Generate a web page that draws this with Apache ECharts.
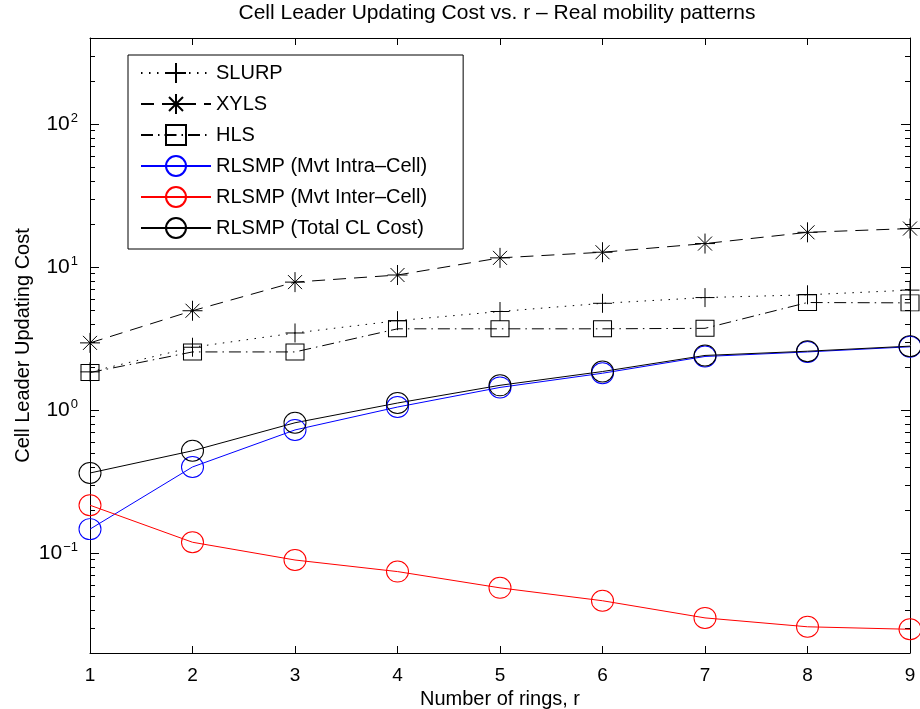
<!DOCTYPE html>
<html>
<head>
<meta charset="utf-8">
<script src="https://cdn.jsdelivr.net/npm/echarts@6/dist/echarts.min.js"></script>
<style>
  html, body { margin: 0; padding: 0; background: #fff; }
  #chart { width: 920px; height: 709px; }
</style>
</head>
<body>
<div id="chart"></div>
<script>
// Number of rings r
const rings = [1, 2, 3, 4, 5, 6, 7, 8, 9];

// Cell leader updating cost per protocol
const slurp      = [1.85, 2.75, 3.46, 4.22, 4.89, 5.58, 6.12, 6.40, 6.90];
const xyls       = [2.95, 4.95, 7.85, 8.80, 11.6, 12.7, 14.6, 17.5, 18.6];
const hls        = [1.83, 2.55, 2.55, 3.70, 3.70, 3.70, 3.73, 5.65, 5.62];
const intraCell  = [0.147, 0.400, 0.726, 1.05, 1.44, 1.81, 2.37, 2.55, 2.77];
const interCell  = [0.216, 0.119, 0.0894, 0.0742, 0.0571, 0.0464, 0.0352, 0.0305, 0.0293];
const totalCost  = [0.363, 0.519, 0.815, 1.12, 1.49, 1.86, 2.41, 2.58, 2.80];

const seriesNames = [
  'SLURP', 'XYLS', 'HLS',
  'RLSMP (Mvt Intra\u2013Cell)', 'RLSMP (Mvt Inter\u2013Cell)', 'RLSMP (Total CL Cost)'
];

// Log axis range and tick positions
const yMin = 0.02, yMax = 400;
const yMajorTicks = [0.1, 1, 10, 100];
const yMinorTicks = [
  0.02, 0.03, 0.04, 0.05, 0.06, 0.07, 0.08, 0.09,
  0.2, 0.3, 0.4, 0.5, 0.6, 0.7, 0.8, 0.9,
  2, 3, 4, 5, 6, 7, 8, 9,
  20, 30, 40, 50, 60, 70, 80, 90,
  200, 300, 400
];

const FONT = '"Liberation Sans", Arial, Helvetica, sans-serif';

const pairs = vals => rings.map((r, i) => [r, vals[i]]);

const plusPath = 'path://M0,10L20,10M10,0L10,20';
const starPath = 'path://M0,10L20,10M10,0L10,20M3,3L17,17M17,3L3,17';

function markerStyle(color) {
  return { color: 'rgba(0,0,0,0)', borderColor: color, borderWidth: 1 };
}

function lineSeries(name, vals, color, dash, symbol, size) {
  return {
    name: name,
    type: 'line',
    xAxisIndex: 0,
    yAxisIndex: 0,
    data: pairs(vals),
    symbol: symbol,
    symbolSize: size,
    showAllSymbol: true,
    lineStyle: { color: color, width: 1, type: dash },
    itemStyle: markerStyle(color),
    emphasis: { disabled: true },
    z: 3
  };
}

function yAxisCfg(position, ticks, len, withLabels) {
  return {
    type: 'log',
    logBase: 10,
    min: yMin,
    max: yMax,
    position: position,
    axisLine: { show: withLabels, lineStyle: { color: '#000', width: 1 } },
    axisTick: { show: true, inside: true, length: len, customValues: ticks,
                lineStyle: { color: '#000', width: 1 } },
    axisLabel: withLabels && position === 'left' ? {
      show: true,
      customValues: yMajorTicks,
      margin: 12,
      formatter: v => {
        const e = Math.round(Math.log10(v));
        return '{b|10}{s|' + (e < 0 ? '\u2212' + (-e) : e) + '}';
      },
      rich: {
        b: { fontSize: 21, fontFamily: FONT, color: '#000' },
        s: { fontSize: 13, fontFamily: FONT, color: '#000', padding: [0, 0, 12, 1] }
      }
    } : { show: false },
    splitLine: { show: false },
    minorTick: { show: false }
  };
}

const chart = echarts.init(document.getElementById('chart'), null, { renderer: 'canvas' });

chart.setOption({
  animation: false,
  backgroundColor: '#fff',
  title: {
    text: 'Cell Leader Updating Cost vs. r \u2013 Real mobility patterns',
    left: 497,
    textAlign: 'center',
    top: 3,
    padding: 0,
    textStyle: { fontFamily: FONT, fontSize: 21, fontWeight: 'normal', color: '#000' }
  },
  grid: { left: 90, right: 10, top: 38, bottom: 56, containLabel: false, outerBoundsMode: 'none' },
  legend: {
    orient: 'vertical',
    left: 128,
    top: 55,
    padding: [7, 36, 10, 12],
    itemGap: 9,
    itemWidth: 70,
    itemHeight: 25,
    borderColor: '#000',
    borderWidth: 1,
    backgroundColor: '#fff',
    selectedMode: false,
    textStyle: { fontFamily: FONT, fontSize: 20, color: '#000' },
    data: seriesNames
  },
  xAxis: [
    {
      type: 'value', min: 1, max: 9, interval: 1, position: 'bottom',
      axisLine: { lineStyle: { color: '#000', width: 1 } },
      axisTick: { inside: true, length: 7, lineStyle: { color: '#000' } },
      axisLabel: { fontFamily: FONT, fontSize: 19, color: '#000', margin: 13 },
      splitLine: { show: false },
      name: 'Number of rings, r',
      nameLocation: 'middle',
      nameGap: 35,
      nameTextStyle: { fontFamily: FONT, fontSize: 20, color: '#000' }
    },
    {
      type: 'value', min: 1, max: 9, interval: 1, position: 'top',
      axisLine: { lineStyle: { color: '#000', width: 1 } },
      axisTick: { inside: true, length: 7, lineStyle: { color: '#000' } },
      axisLabel: { show: false },
      splitLine: { show: false }
    }
  ],
  yAxis: [
    Object.assign(yAxisCfg('left', yMajorTicks, 9, true), {
      name: 'Cell Leader Updating Cost',
      nameLocation: 'middle',
      nameGap: 57,
      nameRotate: 90,
      nameMoveOverlap: false,
      nameTextStyle: { fontFamily: FONT, fontSize: 20, color: '#000' }
    }),
    yAxisCfg('left', yMinorTicks, 5, false),
    Object.assign(yAxisCfg('right', yMajorTicks, 9, true), { axisLabel: { show: false } }),
    yAxisCfg('right', yMinorTicks, 5, false)
  ],
  series: [
    lineSeries(seriesNames[0], slurp, '#000', [1.5, 6.5], plusPath, 19),
    lineSeries(seriesNames[1], xyls, '#000', [13, 8], starPath, 20),
    lineSeries(seriesNames[2], hls, '#000', [12, 5, 1.5, 5], 'rect', [18, 16]),
    lineSeries(seriesNames[3], intraCell, '#0000ff', 'solid', 'circle', [22, 21]),
    lineSeries(seriesNames[4], interCell, '#ff0000', 'solid', 'circle', [22, 21]),
    lineSeries(seriesNames[5], totalCost, '#000', 'solid', 'circle', [22, 21])
  ]
});
</script>
</body>
</html>
